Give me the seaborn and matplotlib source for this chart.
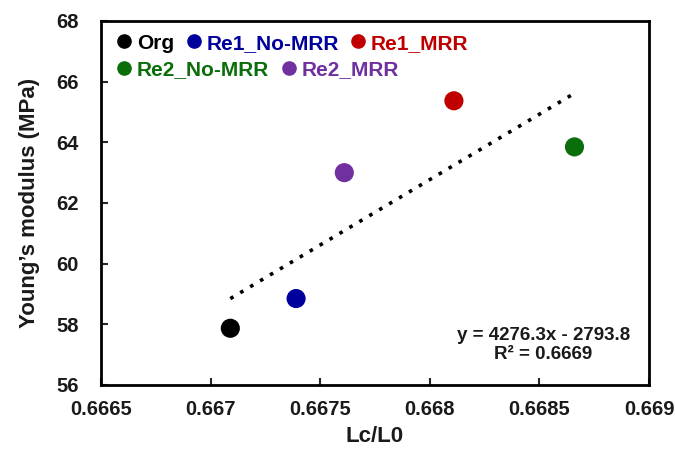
import numpy as np
import pandas as pd
import matplotlib
matplotlib.use("Agg")
import matplotlib.pyplot as plt
import seaborn as sns
from matplotlib.lines import Line2D

labels = ["Org", "Re1_No-MRR", "Re1_MRR", "Re2_No-MRR", "Re2_MRR"]
lc_l0 = [0.66709, 0.66739, 0.66811, 0.66866, 0.66761]
modulus = [57.87, 58.85, 65.37, 63.85, 63.00]
colors = ["#000000", "#00009C", "#C00000", "#0A6E0A", "#7030A0"]
x_ticks = [0.6665, 0.667, 0.6675, 0.668, 0.6685, 0.669]
x_tick_labels = ["0.6665", "0.667", "0.6675", "0.668", "0.6685", "0.669"]
y_ticks = [56, 58, 60, 62, 64, 66, 68]
eq_text = "y = 4276.3x - 2793.8\nR² = 0.6669"

df = pd.DataFrame({"label": labels, "x": lc_l0, "y": modulus})

sns.set_theme(style="white")
plt.rcParams["font.family"] = ["Liberation Sans", "DejaVu Sans"]
plt.rcParams["font.weight"] = "bold"

fig = plt.figure(figsize=(6.75, 4.51), dpi=100)
ax = fig.add_axes([101 / 675, 1 - 385 / 451, (649 - 101) / 675, (385 - 21) / 451])

sns.regplot(data=df, x="x", y="y", ax=ax, scatter=False, ci=None,
            line_kws=dict(color="black", linestyle=(0, (1, 2.2)), linewidth=2.6))
sns.scatterplot(data=df, x="x", y="y", hue="label", hue_order=labels,
                palette=dict(zip(labels, colors)), s=190, edgecolor="none",
                ax=ax, legend=False, zorder=3)

ax.set_xlim(0.6665, 0.669)
ax.set_ylim(56, 68)
ax.set_xticks(x_ticks)
ax.set_xticklabels(x_tick_labels)
ax.set_yticks(y_ticks)
ax.tick_params(axis="both", which="both", direction="in", length=5, width=1.5,
               labelsize=14.5, bottom=True, left=True, top=False, right=False)
ax.tick_params(axis="x", pad=11)
ax.tick_params(axis="y", pad=16)
for lab in ax.get_xticklabels() + ax.get_yticklabels():
    lab.set_fontweight("bold")
    lab.set_color("#1a1a1a")
for sp in ax.spines.values():
    sp.set_visible(True)
    sp.set_color("black")
    sp.set_linewidth(2.0)

ax.set_xlabel("Lc/L0", fontsize=16, fontweight="bold", labelpad=5, color="#1a1a1a")
ax.set_ylabel("Young’s modulus (MPa)", fontsize=16, fontweight="bold", labelpad=12,
              color="#1a1a1a")

ax.text(0.807, 0.11, eq_text, transform=ax.transAxes, ha="center", va="center",
        fontsize=13.5, fontweight="bold", linespacing=1.2, color="#1a1a1a")

def handles(idx):
    return [Line2D([], [], marker="o", linestyle="none", color=colors[i],
                   markersize=9.5, label=labels[i]) for i in idx]

row1 = [0, 1, 2]
row2 = [3, 4]
leg1 = ax.legend(handles=handles(row1), ncol=3, loc="upper left",
                 bbox_to_anchor=(-0.005, 1.005), frameon=False, handletextpad=0.05,
                 columnspacing=0.4, handlelength=1.1, borderaxespad=0.3,
                 prop=dict(size=15, weight="bold"))
for t, i in zip(leg1.get_texts(), row1):
    t.set_color(colors[i])
ax.add_artist(leg1)
leg2 = ax.legend(handles=handles(row2), ncol=2, loc="upper left",
                 bbox_to_anchor=(-0.005, 0.933), frameon=False, handletextpad=0.05,
                 columnspacing=0.4, handlelength=1.1, borderaxespad=0.3,
                 prop=dict(size=15, weight="bold"))
for t, i in zip(leg2.get_texts(), row2):
    t.set_color(colors[i])

fig.savefig("out.png", dpi=100)
